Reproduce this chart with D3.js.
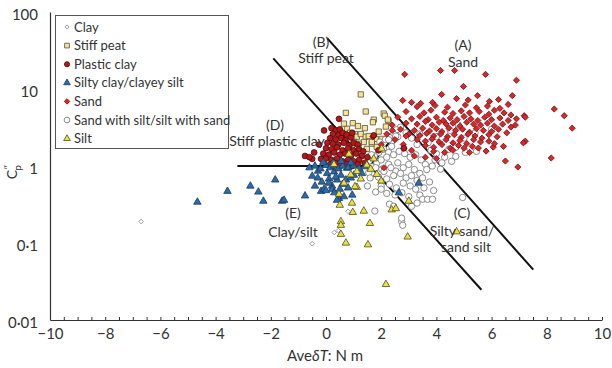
<!DOCTYPE html>
<html>
<head>
<meta charset="utf-8">
<script src="https://cdn.jsdelivr.net/npm/d3@7"></script>
<style>
body { margin: 0; background: #fff; }
text { font-family: Lato, "Open Sans", sans-serif; fill: #333; }
</style>
</head>
<body>
<svg id="chart" width="612" height="368"></svg>
<script>
// legend names, in legend order
let legendLabels = ['Clay', 'Stiff peat', 'Plastic clay', 'Silty clay/clayey silt', 'Sand', 'Sand with silt/silt with sand', 'Silt']

// [AveδT, C''p]
let clay = [[-6.7,0.19],[-0.5,0.098],[0.3,0.137],[0.45,0.145],[0.8,0.258]]

let stiffPeat = [[1.26,8.5],[0.72,4.9],[1.73,4.0],[2.09,4.8],[2.27,3.85],[1.44,5.1],[0.97,3.6],[1.16,3.3],
  [1.41,3.1],[0.76,3.05],[0.87,2.7],[1.05,2.6],[1.12,2.4],[1.26,2.6],[1.44,2.4],[1.55,2.45],[1.37,2.05],
  [1.19,1.95],[1.01,2.05],[0.94,1.8],[1.08,1.55],[1.26,1.45],[1.48,1.67],[1.66,1.95],[1.62,1.35],[1.8,2.25],
  [1.91,2.8],[2.13,4.5],[2.24,4.0],[2.17,3.25],[1.7,3.7],[2.02,2.25],[1.66,2.05],[1.26,1.15],[0.65,3.55],[1.84,1.77]]

let plasticClay = [[0.47,4.1],[-0.07,2.9],[-0.25,1.9],[-0.76,1.35],[-0.43,1.5],[-0.18,1.24],[-0.5,1.24],[-0.6,1.3],
  [0.2,3.1],[0.35,2.9],[0.5,3.0],[0.25,2.6],[0.45,2.5],[0.6,2.7],[0.75,2.55],[0.15,2.3],[0.35,2.2],[0.55,2.3],[0.7,2.15],[0.9,2.35],
  [0.05,2.0],[0.25,1.95],[0.45,1.9],[0.65,2.0],[0.85,1.85],[1.0,2.0],[1.15,1.9],
  [0.0,1.7],[0.2,1.65],[0.4,1.75],[0.6,1.6],[0.8,1.7],[1.0,1.6],[1.2,1.65],[1.35,1.55],
  [-0.1,1.45],[0.1,1.4],[0.3,1.5],[0.5,1.4],[0.7,1.45],[0.9,1.35],[1.1,1.45],[1.3,1.35],[1.5,1.3],
  [0.0,1.25],[0.2,1.2],[0.4,1.25],[0.6,1.15],[0.8,1.2],[1.0,1.15],[1.2,1.2],[1.4,1.1],
  [0.15,1.05],[0.35,1.08],[0.55,1.02],[0.75,1.06],[0.95,1.0],[1.15,1.05],
  [1.73,2.5],[2.82,1.7],[1.9,1.6],[0.95,2.7]]

let siltyClay = [[-4.66,0.34],[-3.57,0.47],[-2.74,0.55],[-2.45,0.46],[-2.27,0.35],[-1.84,0.66],[-1.59,0.35],[-1.52,0.36],[-0.76,0.41],
  [-0.5,0.74],[-0.29,0.86],[-0.18,0.47],[-0.07,0.5],[0.04,0.8],[0.11,0.68],[0.22,0.55],[0.29,0.84],[0.4,0.66],[0.47,0.38],
  [0.54,0.76],[0.72,0.66],[0.76,0.94],[0.9,0.7],[1.01,0.76],[0.4,0.36],[0.22,0.5],[0.0,0.48],
  [-0.6,0.95],[-0.4,1.0],[-0.2,0.92],[0.0,1.02],[0.15,0.95],[0.3,1.0],[0.45,0.92],[0.6,1.0],[0.8,0.95],[1.0,1.0],
  [1.2,0.93],[1.4,0.98],[-0.1,1.12],[0.25,1.1],[0.55,1.15],[0.9,1.1],
  [-0.3,0.7],[-0.15,0.62],[0.1,0.6],[0.35,0.72],[0.6,0.58],[0.8,0.52],[0.3,0.45],[0.5,0.5],[-0.4,0.55],[0.95,0.42],[0.65,0.4],
  [3.36,0.6],[2.64,0.45],[1.3,0.8]]

let sand = [[2.85,15.5],[4.15,17.4],[4.66,17.4],[5.78,15.5],[6.9,13],[4.98,10.8],[4.19,8.5],[4.73,7.5],[5.49,8.2],
  [5.92,6.9],[6.25,7.3],[6.75,8.2],[3.86,6.7],[2.78,7.1],[3.1,6.7],[3.43,6.5],[5.15,7.2],
  [8.27,5.5],[8.63,4.5],[8.92,3.1],[7.18,4.5],[7.22,4.3],[6.86,3.4],[7.22,2.1],[7.15,2.0],[6.43,1.8],[6.06,1.76],
  [5.8,1.56],[5.52,1.71],[6.5,1.16],[6.95,0.97],[8.16,1.27],[2.1,0.95],
  [3.3,5.9],[3.95,6.1],[4.4,5.8],[5.05,6.2],[5.45,5.7],[5.85,6.0],[6.3,5.6],[6.6,6.3],
  [2.9,5.1],[3.55,4.9],[3.8,5.3],[4.3,5.0],[4.6,4.8],[4.9,5.2],[5.2,4.9],[5.55,5.1],[5.9,4.7],[6.1,5.3],[6.45,4.9],[6.7,4.6],
  [2.6,4.3],[3.1,4.1],[3.4,4.4],[3.7,4.0],[4.0,4.3],[4.25,3.9],[4.5,4.2],[4.75,4.0],[5.0,4.4],[5.25,4.1],[5.5,3.9],
  [5.75,4.3],[6.0,4.0],[6.3,4.2],[6.6,3.9],[6.9,4.1],
  [2.9,3.6],[3.3,3.5],[3.6,3.8],[3.85,3.4],[4.1,3.7],[4.35,3.5],[4.6,3.6],[4.85,3.3],[5.1,3.7],[5.35,3.5],[5.6,3.4],
  [5.85,3.6],[6.1,3.3],[6.4,3.5],[6.7,3.2],
  [2.7,3.0],[3.2,2.9],[3.5,3.1],[3.75,2.85],[4.0,3.05],[4.2,2.8],[4.45,3.1],[4.7,2.9],[4.95,3.0],[5.2,2.75],[5.45,3.05],
  [5.7,2.9],[6.0,2.8],[6.25,3.0],[6.55,2.7],
  [3.0,2.6],[3.4,2.5],[3.65,2.65],[3.9,2.45],[4.15,2.6],[4.4,2.4],[4.65,2.55],[4.9,2.35],[5.15,2.6],[5.4,2.45],[5.65,2.3],[5.9,2.55],[6.2,2.4],
  [3.3,2.2],[3.6,2.1],[3.85,2.25],[4.1,2.05],[4.35,2.2],[4.6,2.0],[4.85,2.15],[5.1,1.95],[5.35,2.2],[5.6,2.05],[5.9,2.1],[6.1,1.95],
  [3.6,1.85],[3.9,1.75],[4.2,1.9],[4.5,1.7],[4.8,1.85],[5.0,1.7],[5.3,1.8],
  [3.9,1.55],[4.3,1.5],[4.6,1.6],[5.2,1.5],
  [2.4,3.4],[2.2,2.6],[2.5,2.2],[2.8,1.9],[3.1,1.6],[2.9,2.45],[3.2,1.35],[3.6,1.3],[4.0,1.25],
  [1.7,2.4],[2.4,2.9],[2.0,1.9],[1.73,2.45],[2.82,1.7]]

let sandSilt = [[2.7,3.2],[2.55,2.95],[2.45,2.6],[2.3,2.35],[2.15,2.2],[1.95,2.05],[2.4,2.1],[2.6,2.4],[2.9,2.7],[3.1,2.3],[3.3,1.9],
  [2.27,2.2],[2.53,2.45],[2.38,1.8],[2.09,1.65],[1.91,1.5],[2.27,1.5],[1.66,0.98],[1.84,1.1],[1.55,0.82],[2.02,0.91],[2.27,1.05],[2.53,0.86],
  [1.75,1.35],[2.0,1.2],[2.2,1.3],[2.45,1.4],[2.65,1.55],[2.85,1.45],[3.05,1.3],[3.25,1.4],[3.45,1.2],[3.6,1.05],
  [1.8,0.95],[2.1,0.85],[2.35,0.95],[2.6,1.1],[2.8,0.95],[3.0,1.05],[3.2,0.9],[3.4,0.8],[3.65,0.9],[3.85,1.0],
  [1.9,0.72],[2.2,0.68],[2.45,0.75],[2.7,0.8],[2.9,0.7],[3.1,0.75],[3.3,0.65],[3.5,0.7],[3.75,0.62],
  [2.0,0.55],[2.3,0.58],[2.55,0.52],[2.8,0.6],[3.05,0.55],[3.25,0.5],[3.55,0.52],[3.9,0.48],
  [1.8,0.46],[2.0,0.5],[2.2,0.44],[2.5,0.42],[2.75,0.45],[3.0,0.4],[3.4,0.42],
  [1.77,0.26],[2.74,0.19],[2.78,0.17],[2.74,0.21],[3.5,0.37],[3.68,0.37],[3.86,0.37],[4.95,0.39],[2.3,0.32],[2.45,0.3],[3.1,0.3],[3.3,0.33],
  [4.7,1.33],[4.15,0.91],[5.05,1.5],[4.45,1.65],[4.0,1.45],[3.8,1.6],[5.45,1.55],[4.7,1.75],[4.3,1.3],[4.55,1.15],[3.95,1.2],[4.2,1.1],
  [4.0,2.4],[4.5,2.9],[5.0,2.3],[3.7,2.0],[5.4,2.7],[6.0,3.0],[4.8,3.4],[3.4,2.6],
  [1.4,1.2],[1.6,0.7],[1.5,0.55],[1.65,1.4],[1.3,1.5]]

let silt = [[0.5,0.31],[0.94,0.33],[0.97,0.25],[1.37,0.26],[1.59,0.18],[0.54,0.19],[0.54,0.17],[0.54,0.13],[0.72,0.1],
  [1.52,0.095],[2.96,0.12],[2.17,0.029],[2.38,0.27],[2.53,0.28],[3.0,0.35],[4.73,0.14],[1.12,0.53],[1.05,0.54],
  [0.47,0.43],[0.65,0.6],[0.9,0.77],[1.12,0.85],[1.26,0.68],[1.48,1.03],[1.62,0.91],[1.84,0.78],[1.73,1.24],
  [2.0,0.64],[2.02,1.67],[0.83,1.43],[0.29,1.05]]

// zone boundaries drawn on the chart
let boundaryFlat = [[-3.21,1],[1.6,1]]
let boundaryInner = [[-1.91,25],[5.63,0.0247]]
let boundaryOuter = [[0.04,45.7],[7.51,0.045]]
let boundaryLink = [[1.6,1],[2.82,3.47]]

let xTickValues = d3.range(-10, 10.01, 0.5)
let yTickValues = [0.01, 0.1, 1, 10, 100]
let yTickLabels = ['0·01', '0·1', '1', '10', '100']

let svg = d3.select('#chart')

let x = d3.scaleLinear().domain([-10, 10]).range([50, 602])
let y = d3.scaleLog().domain([0.01, 100]).range([320, 12])

// axes
let xAxis = svg.append('g')
    .attr('transform', 'translate(0,320)')
    .call(d3.axisBottom(x)
        .tickValues(xTickValues)
        .tickSizeInner(-3)
        .tickSizeOuter(0)
        .tickPadding(8)
        .tickFormat(d => (Math.round(d) === d && d % 2 === 0) ? (d < 0 ? '\u2212' + Math.abs(d) : d) : ''))
xAxis.selectAll('text').style('font-size', '15px').attr('fill', '#333')
xAxis.selectAll('line').attr('stroke', '#333')
xAxis.select('.domain').attr('stroke', '#333').attr('stroke-width', 1.2)

let yAxis = svg.append('g')
    .attr('transform', 'translate(50,0)')
    .call(d3.axisLeft(y)
        .tickValues(yTickValues)
        .tickSize(0)
        .tickPadding(12)
        .tickFormat((d, i) => yTickLabels[i]))
yAxis.selectAll('text').style('font-size', '15px').attr('fill', '#333').attr('dy', '0.52em')
yAxis.select('.domain').attr('stroke', '#333').attr('stroke-width', 1.2)

// axis titles
let xTitle = svg.append('text')
    .attr('x', 325).attr('y', 361)
    .attr('text-anchor', 'middle')
    .style('font-size', '15px')
xTitle.append('tspan').text('Ave')
xTitle.append('tspan').style('font-style', 'italic').text('\u03B4T')
xTitle.append('tspan').text(': N m')

let yTitle = svg.append('text')
    .attr('transform', 'translate(17,172) rotate(-90)')
    .attr('text-anchor', 'middle')
    .style('font-size', '14px')
yTitle.append('tspan').text('C')
yTitle.append('tspan').attr('dy', -5).style('font-size', '10px').text('\u2033')
yTitle.append('tspan').attr('dx', -6).attr('dy', 9).style('font-size', '10px').text('p')

// boundary lines
let line = d3.line().x(d => x(d[0])).y(d => y(d[1]))
;[boundaryFlat, boundaryInner, boundaryOuter, boundaryLink].forEach(b => {
    svg.append('path')
        .attr('d', line(b))
        .attr('fill', 'none')
        .attr('stroke', '#111')
        .attr('stroke-width', 2)
})

// marker looks per soil type (diamonds are squares turned 45 degrees)
let looks = {
    'Clay': { type: d3.symbolSquare, rot: 45, size: 11, fill: '#fff', stroke: '#8a8aa0', data: clay },
    'Stiff peat': { type: d3.symbolSquare, rot: 0, size: 28, fill: '#f4e39a', stroke: '#5c5034', data: stiffPeat },
    'Plastic clay': { type: d3.symbolCircle, rot: 0, size: 26, fill: '#b3191c', stroke: '#4a0c0c', data: plasticClay },
    'Silty clay/clayey silt': { type: d3.symbolTriangle, rot: 0, size: 24, fill: '#2c6aaa', stroke: '#1b3a60', data: siltyClay },
    'Sand': { type: d3.symbolSquare, rot: 45, size: 19, fill: '#d8262a', stroke: '#7a1414', data: sand },
    'Sand with silt/silt with sand': { type: d3.symbolCircle, rot: 0, size: 32, fill: '#fff', stroke: '#707070', data: sandSilt },
    'Silt': { type: d3.symbolTriangle, rot: 0, size: 24, fill: '#ece23a', stroke: '#4a4a30', data: silt }
}

let drawOrder = ['Clay', 'Stiff peat', 'Sand with silt/silt with sand', 'Sand', 'Plastic clay', 'Silty clay/clayey silt', 'Silt']

drawOrder.forEach(name => {
    let look = looks[name]
    svg.append('g').selectAll('path')
        .data(look.data)
        .enter()
        .append('path')
        .attr('transform', d => 'translate(' + x(d[0]) + ',' + y(d[1]) + ') rotate(' + look.rot + ')')
        .attr('d', d3.symbol().type(look.type).size(look.size))
        .attr('fill', look.fill)
        .attr('stroke', look.stroke)
        .attr('stroke-width', 0.8)
})

// zone labels
let zoneLabels = [
    ['(A)', 463, 50], ['Sand', 463, 67],
    ['(B)', 321, 47], ['Stiff peat', 326, 63],
    ['(D)', 275, 130], ['Stiff plastic clay', 277, 146],
    ['(E)', 293, 218], ['Clay/silt', 293, 237],
    ['(C)', 462, 218], ['Silty sand/', 462, 236], ['sand silt', 466, 252]
]
svg.append('g').selectAll('text')
    .data(zoneLabels)
    .enter()
    .append('text')
    .attr('x', d => d[1])
    .attr('y', d => d[2])
    .attr('text-anchor', 'middle')
    .style('font-size', '14px')
    .text(d => d[0])

// legend
let legend = svg.append('g')
legend.append('rect')
    .attr('x', 55.5).attr('y', 15.5)
    .attr('width', 173).attr('height', 133)
    .attr('fill', '#fff')
    .attr('stroke', '#555')
    .attr('stroke-width', 1)

legendLabels.forEach((name, i) => {
    let look = looks[name]
    let ly = 27 + i * 18.6
    legend.append('path')
        .attr('transform', 'translate(67,' + ly + ') rotate(' + look.rot + ')')
        .attr('d', d3.symbol().type(look.type).size(look.size * 0.8))
        .attr('fill', look.fill)
        .attr('stroke', look.stroke)
        .attr('stroke-width', 0.8)
    legend.append('text')
        .attr('x', 74).attr('y', ly + 4.5)
        .style('font-size', '13px')
        .text(name)
})
</script>
</body>
</html>
